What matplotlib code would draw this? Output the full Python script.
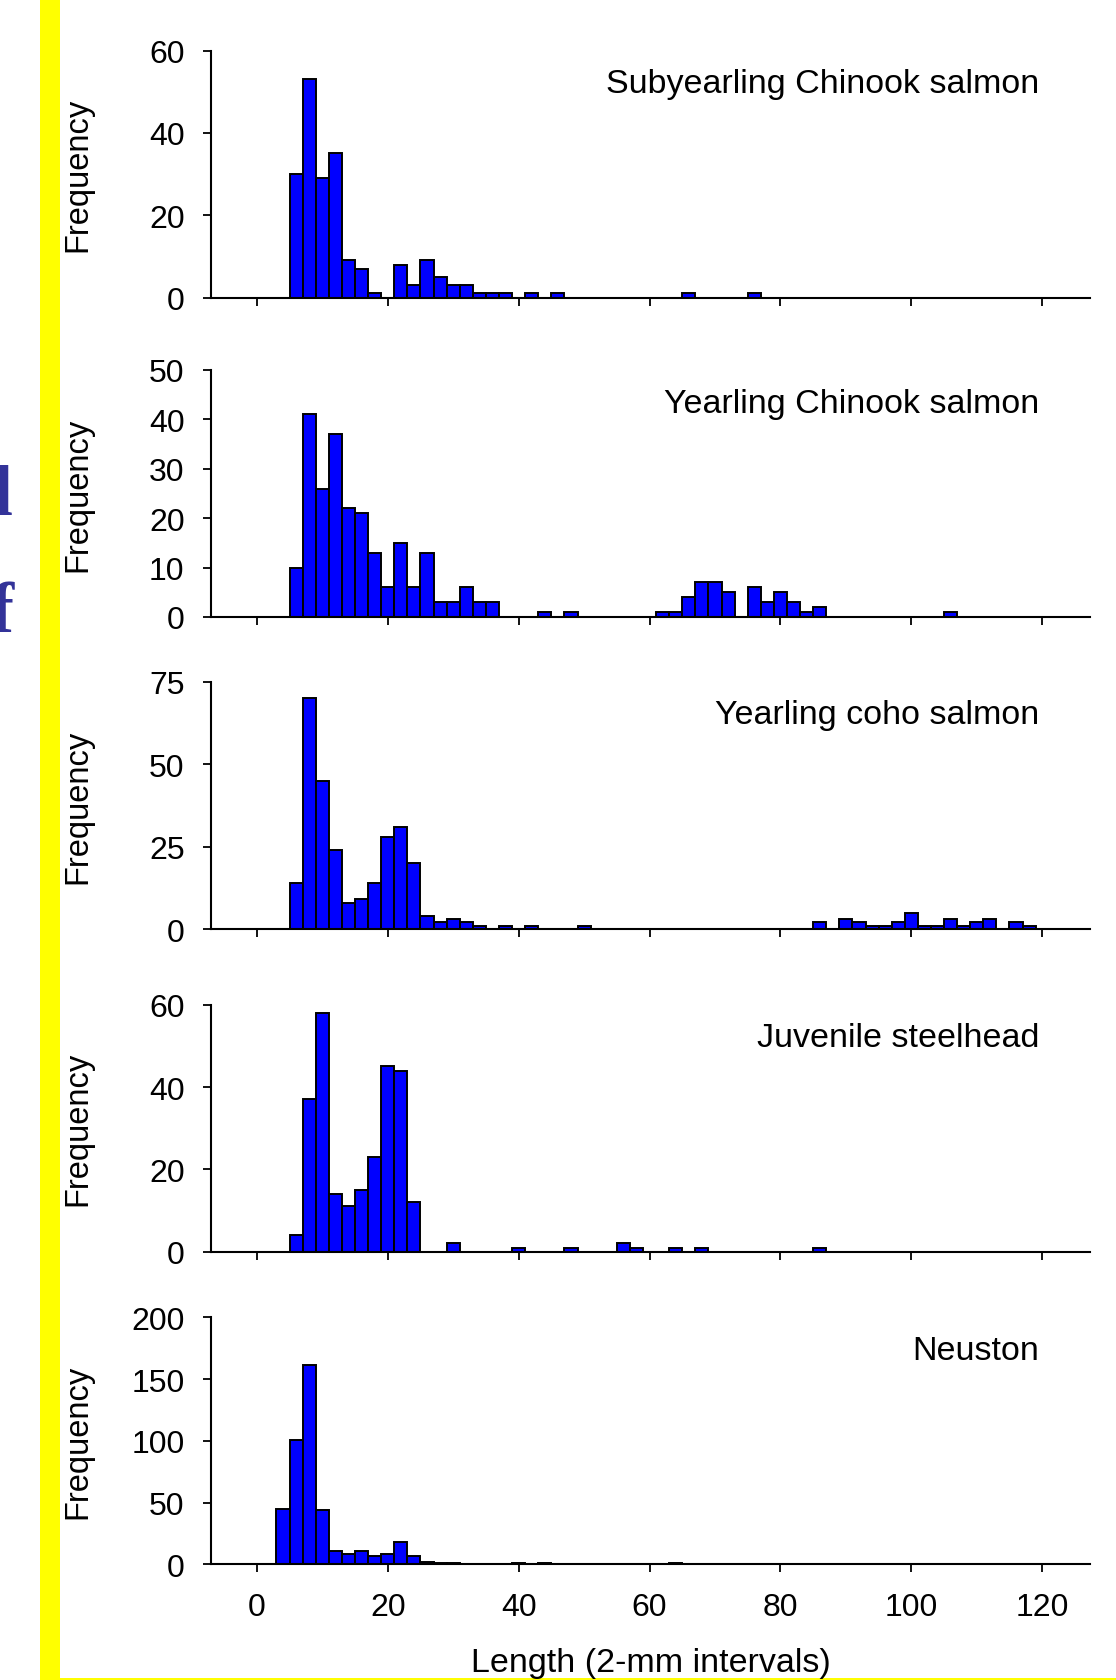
import matplotlib.pyplot as plt
from matplotlib.patches import Rectangle

plt.rcParams['font.family'] = ['Liberation Sans', 'DejaVu Sans']

# bin centres (2-mm bins) and counts, only the bins that have fish
sub_chin_x = [6, 8, 10, 12, 14, 16, 18, 22, 24, 26, 28, 30, 32, 34, 36, 38, 42, 46, 66, 76]
sub_chin_n = [30, 53, 29, 35, 9, 7, 1, 8, 3, 9, 5, 3, 3, 1, 1, 1, 1, 1, 1, 1]

yr_chin_x = [6, 8, 10, 12, 14, 16, 18, 20, 22, 24, 26, 28, 30, 32, 34, 36, 44, 48,
             62, 64, 66, 68, 70, 72, 76, 78, 80, 82, 84, 86, 106]
yr_chin_n = [10, 41, 26, 37, 22, 21, 13, 6, 15, 6, 13, 3, 3, 6, 3, 3, 1, 1,
             1, 1, 4, 7, 7, 5, 6, 3, 5, 3, 1, 2, 1]

coho_x = [6, 8, 10, 12, 14, 16, 18, 20, 22, 24, 26, 28, 30, 32, 34, 38, 42, 50,
          86, 90, 92, 94, 96, 98, 100, 102, 104, 106, 108, 110, 112, 116, 118]
coho_n = [14, 70, 45, 24, 8, 9, 14, 28, 31, 20, 4, 2, 3, 2, 1, 1, 1, 1,
          2, 3, 2, 1, 1, 2, 5, 1, 1, 3, 1, 2, 3, 2, 1]

steel_x = [6, 8, 10, 12, 14, 16, 18, 20, 22, 24, 30, 40, 48, 56, 58, 64, 68, 86]
steel_n = [4, 37, 58, 14, 11, 15, 23, 45, 44, 12, 2, 1, 1, 2, 1, 1, 1, 1]

neus_x = [4, 6, 8, 10, 12, 14, 16, 18, 20, 22, 24, 26, 28, 30, 40, 44, 64]
neus_n = [45, 101, 161, 44, 11, 8, 11, 7, 8, 18, 7, 2, 1, 1, 1, 1, 1]

titles = ['Subyearling Chinook salmon', 'Yearling Chinook salmon',
          'Yearling coho salmon', 'Juvenile steelhead', 'Neuston']
ymaxes = [60, 50, 75, 60, 200]
ysteps = [20, 10, 25, 20, 50]
xticks = [0, 20, 40, 60, 80, 100, 120]

W, H = 1116, 1681
fig = plt.figure(figsize=(W / 100, H / 100), dpi=100)

# yellow slide strip on the left and thin line at the bottom
fig.patches.append(Rectangle((40 / W, 0), 20 / W, 1, transform=fig.transFigure,
                             facecolor='#ffff00', edgecolor='none', zorder=0))
fig.patches.append(Rectangle((40 / W, 0), 1 - 40 / W, 2 / H, transform=fig.transFigure,
                             facecolor='#ffff00', edgecolor='none', zorder=0))
# bits of slide text cut off at the left edge (as in the original slide)
fig.text(13 / W, 1 - 515 / H, 'l', family='Liberation Serif', weight='bold',
         fontsize=52, color='#333399', ha='right', va='baseline')
fig.text(14 / W, 1 - 632 / H, 'f', family='Liberation Serif', weight='bold',
         fontsize=52, color='#333399', ha='right', va='baseline')

tops = [51.5, 371, 683, 1005.7, 1318.3]
ph = 247
left, right = 211, 1090

series = [(sub_chin_x, sub_chin_n), (yr_chin_x, yr_chin_n), (coho_x, coho_n),
          (steel_x, steel_n), (neus_x, neus_n)]

for i, (xs, ns) in enumerate(series):
    top = tops[i]
    ax = fig.add_axes([left / W, 1 - (top + ph) / H, (right - left) / W, ph / H])
    ax.bar(xs, ns, width=2, color='#0000ff', edgecolor='black', linewidth=1.4)
    ax.set_xlim(-7, 127.3)
    ax.set_ylim(0, ymaxes[i])
    ax.set_yticks(range(0, ymaxes[i] + 1, ysteps[i]))
    ax.set_xticks(xticks)
    ax.spines['top'].set_visible(False)
    ax.spines['right'].set_visible(False)
    ax.spines['left'].set_linewidth(1.5)
    ax.spines['bottom'].set_linewidth(1.5)
    ax.tick_params(axis='y', direction='out', length=6, width=1.3, pad=13, labelsize=23)
    ax.tick_params(axis='x', direction='out', length=6, width=1.3, pad=14, labelsize=23)
    if i < 4:
        ax.set_xticklabels([])
    fig.text(78 / W, 1 - (top + ph / 2) / H, 'Frequency', rotation=90,
             ha='center', va='center', fontsize=23.5)
    fig.text(1039 / W, 1 - (top + 33) / H, titles[i], ha='right', va='center',
             fontsize=24.5)

fig.text(650.5 / W, 1 - 1664 / H, 'Length (2-mm intervals)', ha='center', va='center',
         fontsize=24.5)

fig.savefig('out.png', dpi=100)
